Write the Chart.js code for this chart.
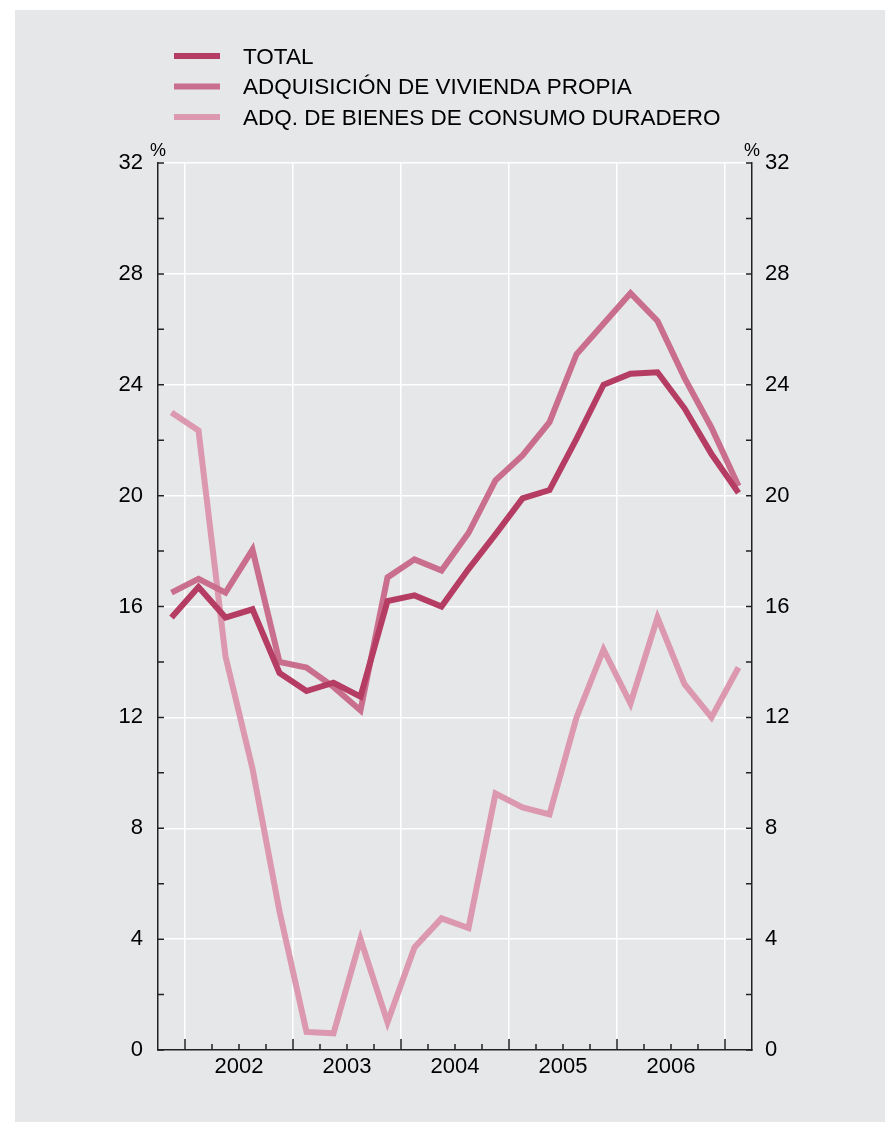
<!DOCTYPE html>
<html>
<head>
<meta charset="utf-8">
<script src="https://cdn.jsdelivr.net/npm/chart.js@4.4.1/dist/chart.umd.min.js"></script>
<style>
  html, body { margin: 0; padding: 0; background: #fff; }
  #panel { position: absolute; left: 15px; top: 10px; width: 870px; height: 1112px; background: #e6e7e9; }
</style>
</head>
<body>
<div id="panel"><canvas id="line-chart" width="870" height="1112"></canvas></div>
<script>
// trimestres: 2001 IV ... 2007 I
const trimestres = ["2001 IV",
  "2002 I", "2002 II", "2002 III", "2002 IV",
  "2003 I", "2003 II", "2003 III", "2003 IV",
  "2004 I", "2004 II", "2004 III", "2004 IV",
  "2005 I", "2005 II", "2005 III", "2005 IV",
  "2006 I", "2006 II", "2006 III", "2006 IV",
  "2007 I"];
const anios = [2002, 2003, 2004, 2005, 2006];

const total    = [15.6, 16.7, 15.6, 15.9, 13.6, 12.95, 13.25, 12.75, 16.2, 16.4, 16.0, 17.35, 18.6, 19.9, 20.2, 22.05, 24.0, 24.4, 24.45, 23.15, 21.5, 20.1];
const vivienda = [16.5, 17.0, 16.5, 18.05, 14.0, 13.8, 13.1, 12.25, 17.05, 17.7, 17.3, 18.65, 20.55, 21.45, 22.65, 25.1, 26.2, 27.3, 26.3, 24.25, 22.45, 20.35];
const consumo  = [23.0, 22.35, 14.2, 10.15, 5.0, 0.65, 0.6, 4.0, 1.0, 3.7, 4.75, 4.4, 9.25, 8.75, 8.5, 12.0, 14.45, 12.5, 15.6, 13.2, 12.0, 13.8];

const ticksY = [0, 4, 8, 12, 16, 20, 24, 28, 32];

const FUENTE = '"Liberation Sans", Arial, sans-serif';

// cada trimestre ocupa una unidad; el punto va en el centro
const serie = vals => vals.map((v, i) => ({ x: i + 0.5, y: v }));

const marcas = {
  id: 'marcas',
  afterDraw(chart) {
    const { ctx, chartArea: a, scales } = chart;
    ctx.save();
    ctx.strokeStyle = '#222';
    ctx.lineWidth = 1.5;
    ctx.beginPath();
    for (let v = 0; v <= 32; v += 2) {
      const py = scales.y.getPixelForValue(v);
      ctx.moveTo(a.left, py); ctx.lineTo(a.left + 6, py);
      ctx.moveTo(a.right - 6, py); ctx.lineTo(a.right, py);
    }
    for (let q = 1; q < trimestres.length; q++) {
      const px = scales.x.getPixelForValue(q);
      const len = (q - 1) % 4 === 0 ? 11 : 6;
      ctx.moveTo(px, a.bottom); ctx.lineTo(px, a.bottom - len);
    }
    ctx.stroke();

    ctx.fillStyle = '#000';
    ctx.font = '18px ' + FUENTE;
    ctx.textAlign = 'center';
    ctx.textBaseline = 'alphabetic';
    ctx.fillText('%', a.left, a.top - 7);
    ctx.fillText('%', a.right, a.top - 7);

    // leyenda
    ctx.font = '22.5px ' + FUENTE;
    ctx.textAlign = 'left';
    ctx.textBaseline = 'middle';
    chart.data.datasets.forEach((ds, i) => {
      const y = 46 + i * 30.5;
      ctx.strokeStyle = ds.borderColor;
      ctx.lineWidth = 6;
      ctx.beginPath();
      ctx.moveTo(159, y); ctx.lineTo(205, y);
      ctx.stroke();
      ctx.fillStyle = '#000';
      ctx.fillText(ds.label, 228, y + 1.5);
    });
    ctx.restore();
  }
};

const ejeY = (pos, ancho, rejilla) => ({
  type: 'linear',
  position: pos,
  min: 0,
  max: 32,
  afterFit: s => { s.width = ancho; },
  border: { display: true, color: '#222', width: 1.5 },
  grid: rejilla ? {
    drawTicks: false,
    lineWidth: 1.5,
    color: c => (c.tick && c.tick.value % 4 === 0 && c.tick.value > 0) ? '#ffffff' : 'rgba(0,0,0,0)'
  } : { drawOnChartArea: false, drawTicks: false },
  ticks: {
    stepSize: 2,
    padding: pos === 'left' ? 15 : 13,
    color: '#000',
    font: { family: FUENTE, size: 22 },
    callback: v => ticksY.includes(v) ? String(v) : ''
  }
});

new Chart(document.getElementById("line-chart"), {
  type: 'line',
  data: {
    datasets: [
      { label: "TOTAL", data: serie(total), borderColor: "#b53d64" },
      { label: "ADQUISICIÓN DE VIVIENDA PROPIA", data: serie(vivienda), borderColor: "#c96f8d" },
      { label: "ADQ. DE BIENES DE CONSUMO DURADERO", data: serie(consumo), borderColor: "#dc98ae" }
    ]
  },
  options: {
    responsive: false,
    animation: false,
    layout: { padding: { top: 153, left: 0, right: 0, bottom: 0 } },
    elements: {
      line: { borderWidth: 6, tension: 0, fill: false },
      point: { radius: 0, hoverRadius: 0 }
    },
    plugins: { legend: { display: false }, title: { display: false }, tooltip: { enabled: false } },
    scales: {
      x: {
        type: 'linear',
        min: 0,
        max: trimestres.length,
        afterFit: s => { s.height = 72; },
        border: { display: true, color: '#222', width: 1.5 },
        grid: {
          drawTicks: false,
          lineWidth: 1.5,
          color: c => (c.tick && (c.tick.value - 1) % 4 === 0) ? '#ffffff' : 'rgba(0,0,0,0)'
        },
        ticks: {
          stepSize: 1,
          autoSkip: false,
          maxRotation: 0,
          padding: 4,
          color: '#000',
          font: { family: FUENTE, size: 22 },
          callback: v => ((v - 3) % 4 === 0 && v >= 3) ? String(anios[(v - 3) / 4]) : ''
        }
      },
      y: ejeY('left', 143, true),
      y2: ejeY('right', 133, false)
    }
  },
  plugins: [marcas]
});
</script>
</body>
</html>
